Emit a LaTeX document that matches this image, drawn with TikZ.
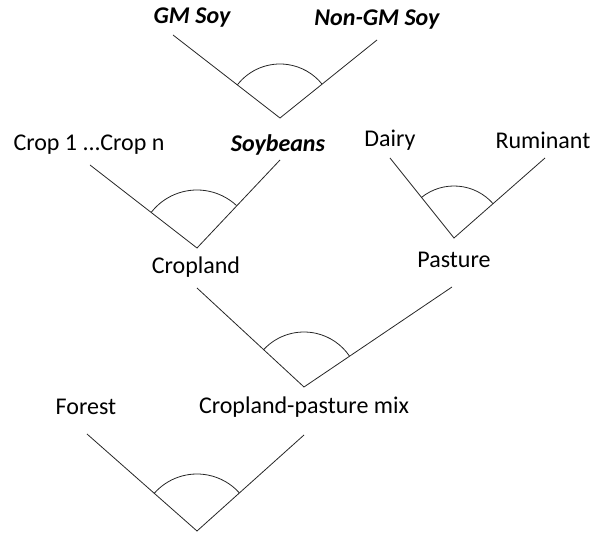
\documentclass[tikz,border=0pt]{standalone}
\usepackage{fontspec}
\setmainfont{Carlito}
\usetikzlibrary{positioning}

\begin{document}
\begin{tikzpicture}[
    x=1pt, y=1pt,
    lbl/.style={font=\fontsize{24}{28}\selectfont, inner sep=0pt},
    soylbl/.style={font=\fontsize{24}{28}\selectfont\bfseries\itshape, inner sep=0pt},
    branch/.style={draw=black!85, line width=0.8pt},
    nestarc/.style={draw=black!85, line width=0.8pt}
]
\useasboundingbox (0,0) rectangle (597,535);

% Soy nest
\node[soylbl] (gmsoy) at (192,517) {GM Soy};
\node[soylbl] (nongmsoy) at (377,515) {Non-GM Soy};
\coordinate (soyL) at (173,500);
\coordinate (soyR) at (377,495);
\coordinate (soyApex) at (280,417);
\draw[branch] (soyL) -- (soyApex) -- (soyR);
\draw[nestarc] (soyApex) ++(142:54) arc[start angle=142, end angle=39, radius=54];

% Cropland nest
\node[lbl] (crops) at (89,390) {Crop 1 ...Crop n};
\node[soylbl] (soybeans) at (278,390) {Soybeans};
\coordinate (cropL) at (90,370);
\coordinate (cropR) at (280,375);
\coordinate (cropApex) at (197,287);
\draw[branch] (cropL) -- (cropApex) -- (cropR);
\draw[nestarc] (cropApex) ++(142:58) arc[start angle=142, end angle=47, radius=58];

% Pasture nest
\node[lbl] (dairy) at (390,395) {Dairy};
\node[lbl] (ruminant) at (543,395) {Ruminant};
\coordinate (pastL) at (390,377);
\coordinate (pastR) at (545,377);
\coordinate (pastApex) at (454,297);
\draw[branch] (pastL) -- (pastApex) -- (pastR);
\draw[nestarc] (pastApex) ++(129:52) arc[start angle=129, end angle=41, radius=52];

% Cropland-pasture nest
\node[lbl] (cropland) at (196,268) {Cropland};
\node[lbl] (pasture) at (454,275) {Pasture};
\coordinate (mixL) at (197,247);
\coordinate (mixR) at (452,248);
\coordinate (mixApex) at (304,148);
\draw[branch] (mixL) -- (mixApex) -- (mixR);
\draw[nestarc] (mixApex) ++(137:55) arc[start angle=137, end angle=34, radius=55];

% Forest nest
\node[lbl] (forest) at (86,128) {Forest};
\node[lbl] (mix) at (304,128) {Cropland-pasture mix};
\coordinate (landL) at (87,101);
\coordinate (landR) at (304,100);
\coordinate (landApex) at (197,4);
\draw[branch] (landL) -- (landApex) -- (landR);
\draw[nestarc] (landApex) ++(139:57) arc[start angle=139, end angle=42, radius=57];

\end{tikzpicture}
\end{document}
